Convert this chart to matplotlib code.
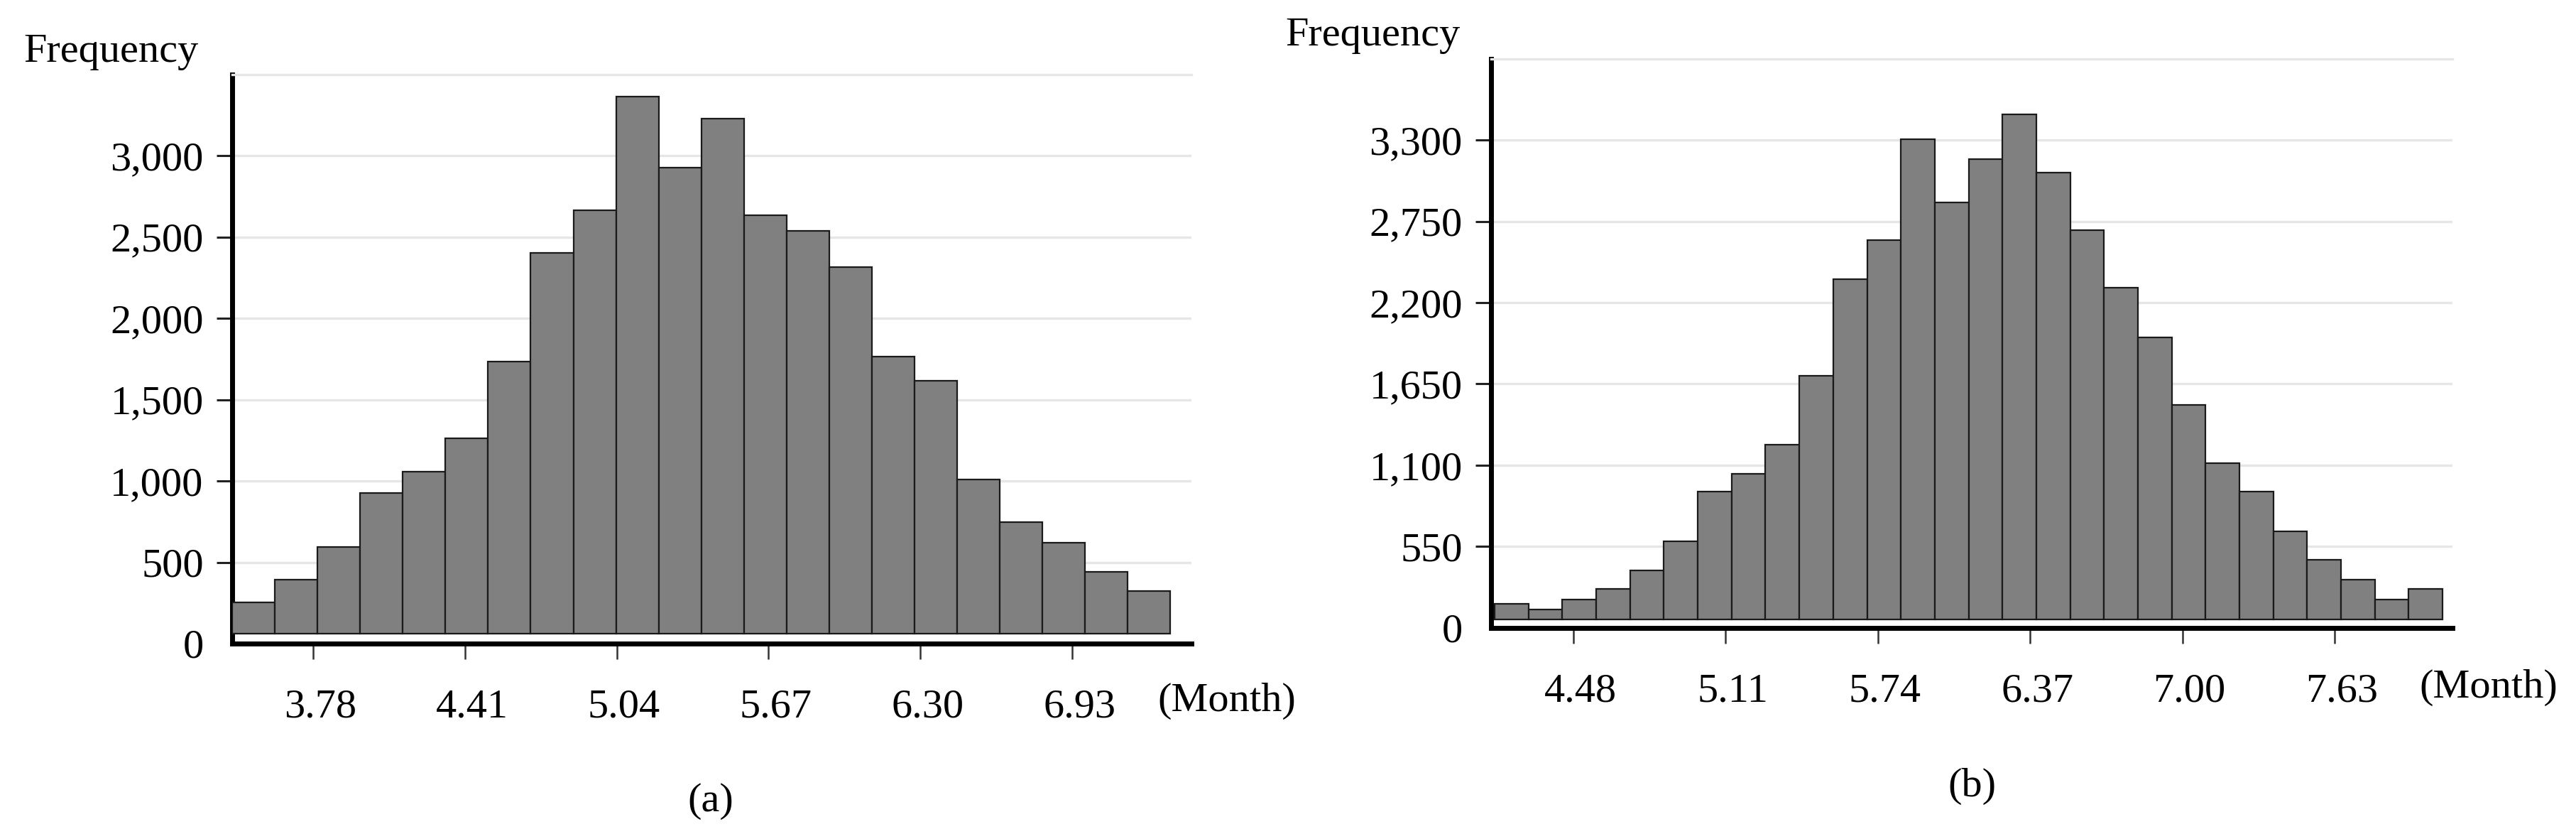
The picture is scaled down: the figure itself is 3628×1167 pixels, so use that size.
import matplotlib
matplotlib.use("Agg")
import matplotlib.pyplot as plt
from matplotlib.transforms import ScaledTranslation
from numpy import arange

# panel (a)
freq_a = [252, 393, 593, 927, 1059, 1261, 1735, 2401, 2665, 3364, 2925,
          3230, 2632, 2538, 2317, 1765, 1617, 1009, 747, 622, 443, 322]
bin_start_a = 3.444
bin_width_a = 0.177
xticks_a = [3.78, 4.41, 5.04, 5.67, 6.30, 6.93]
yticks_a = [0, 500, 1000, 1500, 2000, 2500, 3000]

# panel (b)
freq_b = [160, 122, 191, 263, 390, 584, 919, 1044, 1237, 1705, 2357, 2622,
          3308, 2877, 3172, 3473, 3081, 2692, 2302, 1966, 1506, 1114, 919,
          653, 459, 323, 191, 264]
bin_start_b = 4.154
bin_width_b = 0.1401
xticks_b = [4.48, 5.11, 5.74, 6.37, 7.00, 7.63]
yticks_b = [0, 550, 1100, 1650, 2200, 2750, 3300]

FONT = "Liberation Serif"
FS = 42
plt.rcParams["font.family"] = [FONT, "DejaVu Serif"]
plt.rcParams["font.size"] = FS

W, H = 3628, 1167
DPI = 100


def px_rect(left, top, right, bottom):
    # pixel box -> figure fraction rect
    return [left / W, 1 - bottom / H, (right - left) / W, (bottom - top) / H]


def draw_hist(ax, freq, start, width, xticks, yticks, xlim, ytop, base):
    lefts = start + arange(len(freq)) * width
    heights = [f - base for f in freq]
    ax.bar(lefts, heights, width=width, bottom=base, align="edge",
           color="#808080", edgecolor="#1a1a1a", linewidth=1.6, zorder=3)

    ax.set_xlim(*xlim)
    ax.set_ylim(0, ytop)
    ax.set_xticks(xticks)
    ax.set_xticklabels(["{:.2f}".format(v) for v in xticks])
    ax.set_yticks(yticks)
    ax.set_yticklabels(["{:,}".format(v) for v in yticks])

    ax.set_axisbelow(True)
    ax.yaxis.grid(True, color="#e6e6e6", linewidth=2.4)
    ax.xaxis.grid(False)

    ax.spines["right"].set_visible(False)
    ax.spines["top"].set_color("#e6e6e6")
    ax.spines["top"].set_linewidth(2.4)
    ax.spines["left"].set_linewidth(5)
    ax.spines["bottom"].set_linewidth(5)

    ax.tick_params(axis="y", length=16, width=2.2, pad=13, color="#222222")
    ax.tick_params(axis="x", length=16, width=1.8, pad=30, color="#333333")
    ax.yaxis.get_major_ticks()[0].tick1line.set_visible(False)

    # labels sit a little right of their ticks in the original
    shift = ScaledTranslation(10 / DPI, 0, ax.figure.dpi_scale_trans)
    for lab in ax.get_xticklabels():
        lab.set_transform(lab.get_transform() + shift)


fig = plt.figure(figsize=(W / DPI, H / DPI), dpi=DPI)

ax_a = fig.add_axes(px_rect(327, 104.75, 1678, 906))
draw_hist(ax_a, freq_a, bin_start_a, bin_width_a, xticks_a, yticks_a,
          (3.444, 7.425), 3500, 60)

ax_b = fig.add_axes(px_rect(2100, 83, 3454, 883.6))
draw_hist(ax_b, freq_b, bin_start_b, bin_width_b, xticks_b, yticks_b,
          (4.139, 8.118), 3850, 55)

fig.text(33 / W, 1 - 73 / H, "Frequency", ha="left", va="center", fontsize=FS)
fig.text(1810 / W, 1 - 50 / H, "Frequency", ha="left", va="center", fontsize=FS)
fig.text(1630 / W, 1 - 987 / H, "(Month)", ha="left", va="center", fontsize=FS)
fig.text(3407 / W, 1 - 968 / H, "(Month)", ha="left", va="center", fontsize=FS)
fig.text(1001 / W, 1 - 1128 / H, "(a)", ha="center", va="center", fontsize=FS)
fig.text(2777 / W, 1 - 1107 / H, "(b)", ha="center", va="center", fontsize=FS)

fig.savefig("out.png", dpi=DPI, facecolor="white")
